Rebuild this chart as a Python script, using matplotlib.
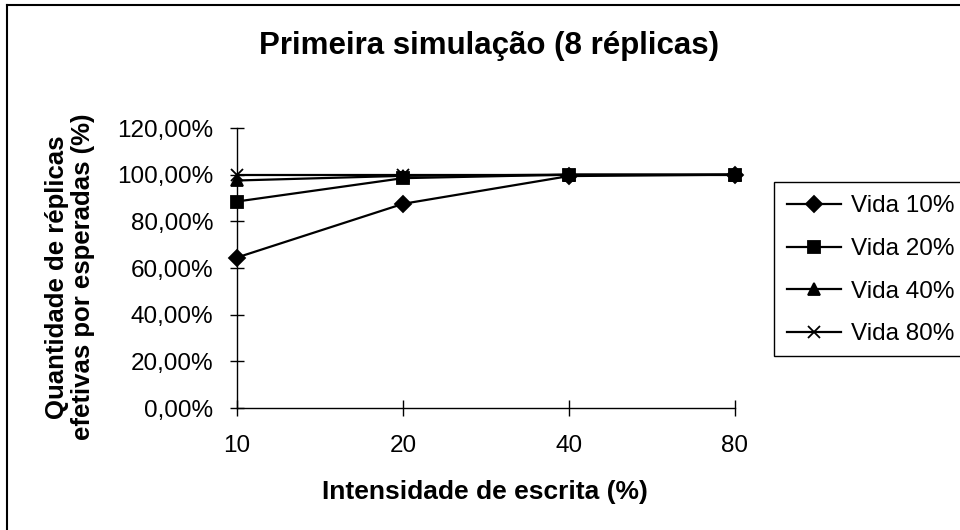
import matplotlib
matplotlib.use("Agg")
import matplotlib.pyplot as plt
from matplotlib.lines import Line2D
from matplotlib.patches import Rectangle
from matplotlib.ticker import FuncFormatter

plt.rcParams['font.family'] = ['Liberation Sans', 'DejaVu Sans']

categories = ["10", "20", "40", "80"]
vida10 = [64.5, 87.5, 99.4, 100.0]
vida20 = [88.5, 98.5, 100.0, 100.0]
vida40 = [97.5, 99.5, 100.0, 100.0]
vida80 = [100.0, 100.0, 100.0, 100.0]
series_labels = ["Vida 10%", "Vida 20%", "Vida 40%", "Vida 80%"]
yticks = [0, 20, 40, 60, 80, 100, 120]

W, H = 960, 530
fig = plt.figure(figsize=(9.6, 5.3), dpi=100)
ax = fig.add_axes([237 / W, 1 - 408 / H, (735 - 237) / W, (408 - 128) / H])

x = list(range(len(categories)))
styles = [("D", 8), ("s", 8), ("^", 9), ("x", 9)]
for vals, lab, (m, ms) in zip([vida10, vida20, vida40, vida80], series_labels, styles):
    ax.plot(x, vals, color="black", lw=1.6, marker=m, markersize=ms,
            markerfacecolor="black", markeredgecolor="black", markeredgewidth=1.3,
            label=lab, clip_on=False)

ax.set_xlim(0, len(categories) - 1)
ax.set_ylim(0, 120)
ax.set_xticks(x)
ax.set_xticklabels(categories)
ax.set_yticks(yticks)
ax.yaxis.set_major_formatter(FuncFormatter(lambda v, p: f"{v:.2f}%".replace(".", ",")))

for s in ["top", "right"]:
    ax.spines[s].set_visible(False)
for s in ["left", "bottom"]:
    ax.spines[s].set_linewidth(1.0)
    ax.spines[s].set_color("black")

ax.tick_params(axis="y", direction="inout", length=10, width=1.0, pad=12, labelsize=17.5)
ax.tick_params(axis="x", direction="inout", length=11, width=1.0, pad=14, labelsize=17.5)

fig.text(489 / W, 1 - 46 / H, "Primeira simulação (8 réplicas)", ha="center", va="center",
         fontsize=22.5, fontweight="bold")
fig.text(485 / W, 1 - 492 / H, "Intensidade de escrita (%)", ha="center", va="center",
         fontsize=19, fontweight="bold")
fig.text(70 / W, 1 - 277 / H, "Quantidade de réplicas\nefetivas por esperadas (%)",
         ha="center", va="center", rotation=90, fontsize=18.5, fontweight="bold",
         multialignment="center", linespacing=1.15)

# legend frame extending past right edge, as in the reference
fig.add_artist(Rectangle((774 / W, 1 - 356 / H), 0.3, (356 - 182) / H, transform=fig.transFigure,
                         fill=True, facecolor="white", edgecolor="black", lw=1.0, clip_on=False))
leg = fig.legend(loc="upper left", bbox_to_anchor=(774 / W, 1 - 182 / H), borderaxespad=0,
                 fontsize=17.5, frameon=False,
                 handlelength=2.2, handletextpad=0.4, labelspacing=0.85, borderpad=0.55)

# outer chart-area border
fig.add_artist(Line2D([7 / W, 7 / W], [0, 1 - 5 / H], color="black", lw=1.5, transform=fig.transFigure))
fig.add_artist(Line2D([7 / W, 1], [1 - 5 / H, 1 - 5 / H], color="black", lw=1.5, transform=fig.transFigure))

fig.savefig("out.png", dpi=100)
